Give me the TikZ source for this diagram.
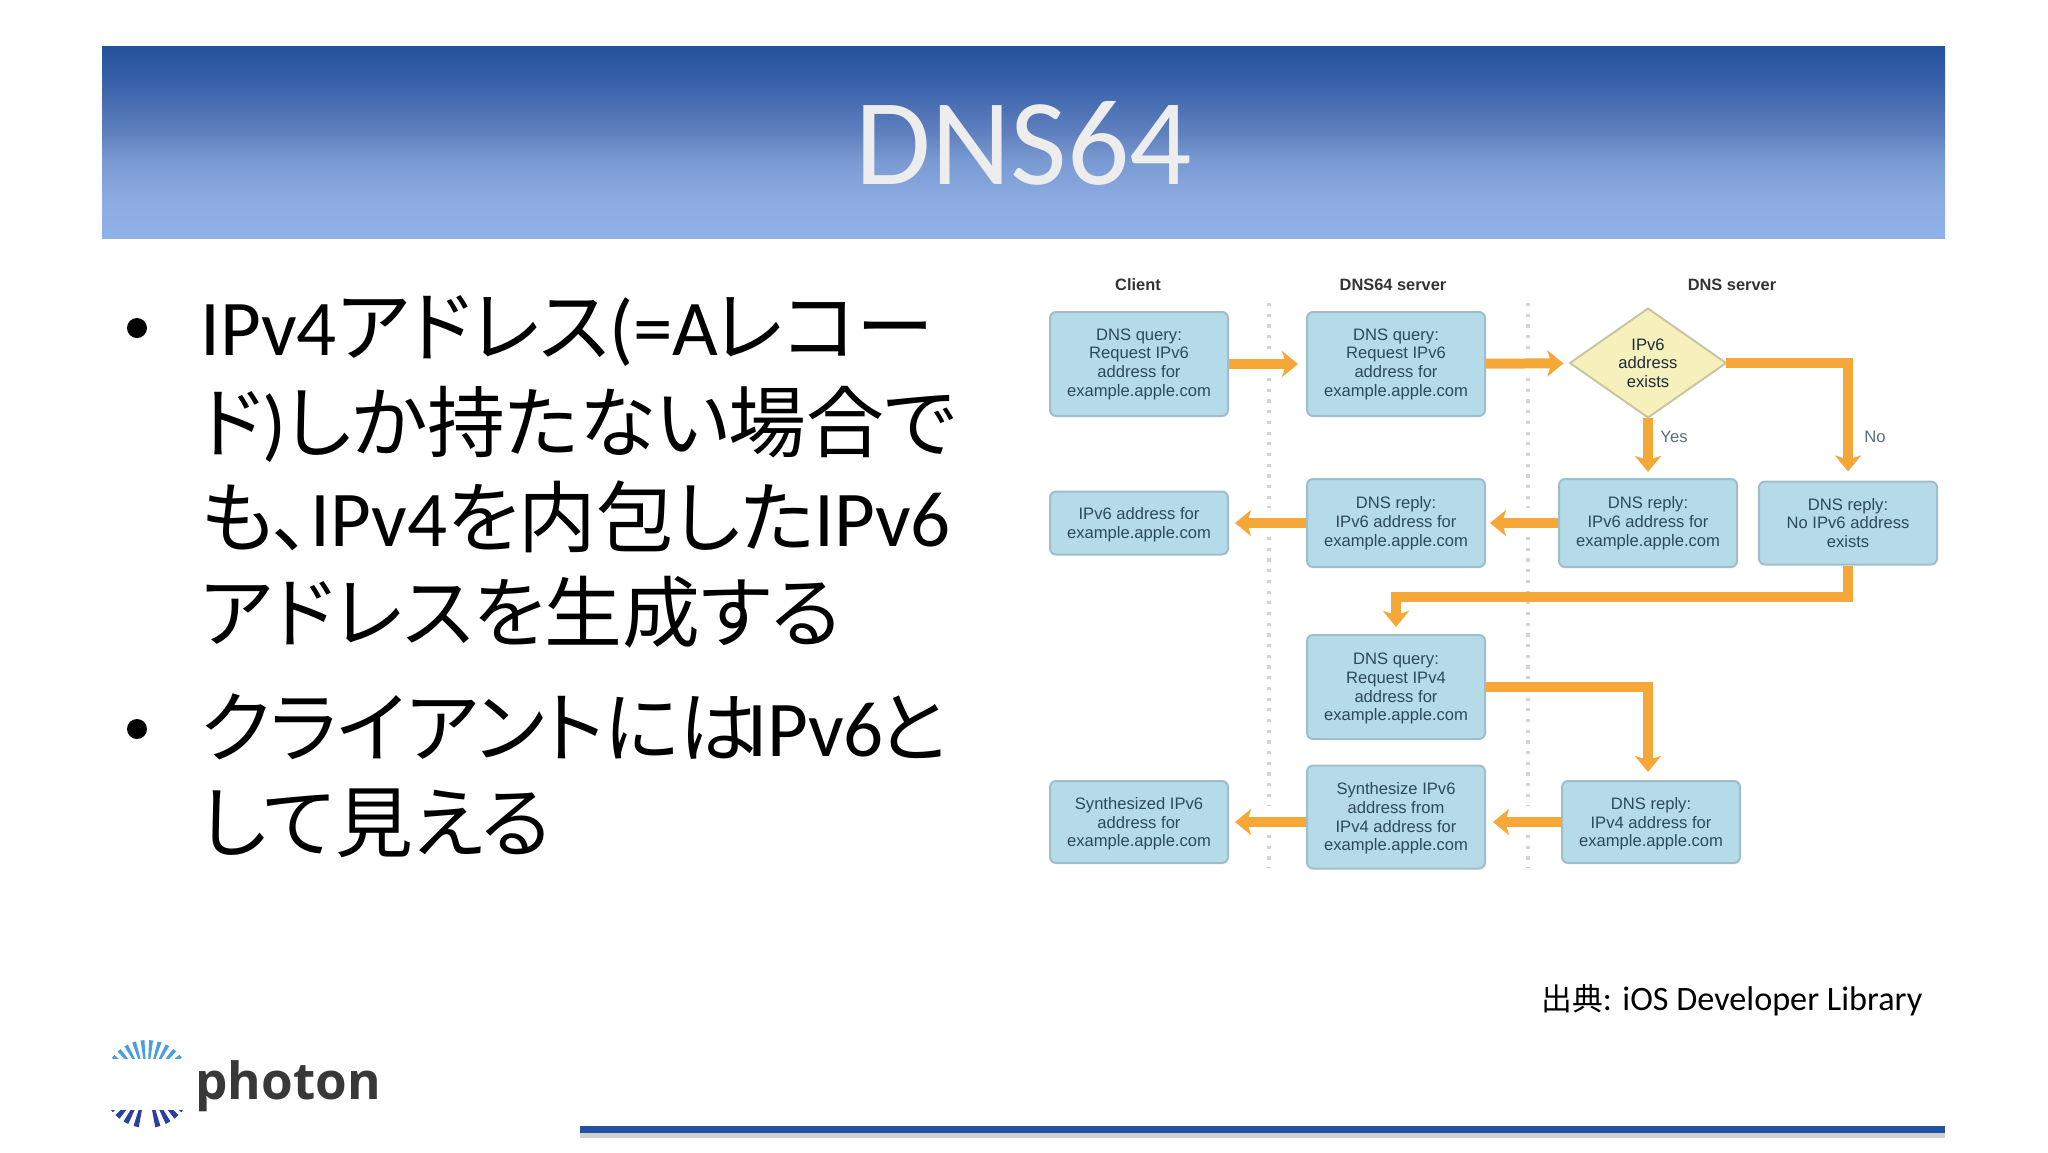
\documentclass[tikz,border=0pt]{standalone}
\usepackage{fontspec}
\setmainfont{Carlito}
\newfontfamily\cjkfont[Scale=0.985,RawFeature=+palt]{Noto Sans CJK JP}
\newfontfamily\capfont[Scale=0.9]{Noto Sans CJK JP}
\newfontfamily\diagfont{Liberation Sans}
\newfontfamily\logofont{Open Sans}
\usetikzlibrary{arrows.meta,shapes.geometric}
\newcommand{\jp}[1]{{\cjkfont #1}}
\definecolor{bannertop}{HTML}{24529B}
\definecolor{bannerupper}{HTML}{3A63AB}
\definecolor{bannermid}{HTML}{5F80BE}
\definecolor{bannerlower}{HTML}{7A9AD3}
\definecolor{bannerlow}{HTML}{8CABE2}
\definecolor{bannerend}{HTML}{8FB1E8}
\definecolor{boxfill}{HTML}{B5DBE8}
\definecolor{boxline}{HTML}{9FBDCC}
\definecolor{boxtext}{HTML}{2C4A5C}
\definecolor{flow}{HTML}{F5A738}
\definecolor{sepdot}{HTML}{D0D3D8}
\definecolor{diafill}{HTML}{F6F1BC}
\definecolor{dialine}{HTML}{C8C6A0}
\definecolor{logolight}{HTML}{4C9FD8}
\definecolor{logodark}{HTML}{2B3F9C}
\definecolor{footline}{HTML}{23509F}
\pgfdeclareverticalshading{bannerfade}{100bp}{color(0bp)=(bannerend); color(25bp)=(bannerend); color(35bp)=(bannerlow); color(45bp)=(bannerlower); color(52.5bp)=(bannermid); color(65bp)=(bannerupper); color(75bp)=(bannertop); color(100bp)=(bannertop)}
\tikzset{
	msgbox/.style={draw=boxline,line width=1pt,fill=boxfill,rounded corners=3pt,text=boxtext,
		font=\diagfont\fontsize{8.3}{9.35}\selectfont,align=center,inner sep=0pt},
	lowtext/.style={text depth=#1},
	headlabel/.style={font=\diagfont\bfseries\fontsize{8.2}{10}\selectfont,text=black!80},
	flowlabel/.style={font=\diagfont\fontsize{8.3}{10}\selectfont,text=boxtext!80},
	flowline/.style={draw=flow,line width=5pt,-{Stealth[width=13pt,length=8pt,inset=2pt]}},
	sepline/.style={draw=sepdot,line width=1.6pt,dash pattern=on 1.6pt off 3.75pt},
	bodyline/.style={anchor=base west,font=\fontsize{39.5}{46}\selectfont,inner sep=0pt},
}
\begin{document}
\begin{tikzpicture}[x=0.5pt,y=-0.5pt]
	\useasboundingbox (0,0) rectangle (2048,1152);
	% banner
	\shade[shading=bannerfade] (102,46) rectangle (1945,238);
	\node[text=black!7!white,font=\fontsize{61.5}{70}\selectfont] (title) at (1024,143) {DNS64};

	% bullets
	\foreach \y in {328,729} {
		\fill (137,\y) circle (10);
	}
	\node[bodyline] (line1) at (200,355) {IPv4\jp{アドレス}(=A\hspace{-2pt}\jp{レコー}};
	\node[bodyline] (line2) at (200,451) {\jp{ド})\jp{しか持たない場合で}};
	\node[bodyline] (line3) at (200,546) {\jp{も、}IPv4\jp{を内包した}IPv6};
	\node[bodyline] (line4) at (200,641) {\jp{アドレスを生成する}};
	\node[bodyline] (line5) at (200,756) {\jp{クライアントには}\hspace{-5pt}IPv6\hspace{-3pt}\jp{と}};
	\node[bodyline] (line6) at (200,851) {\jp{して見える}};

	% separators
	\foreach \x in {1269,1528} {
		\draw[sepline] (\x,303) -- (\x,350);
		\draw[sepline] (\x,378) -- (\x,508);
		\draw[sepline] (\x,537) -- (\x,805);
		\draw[sepline] (\x,835) -- (\x,868);
	}

	% columns
	\node[headlabel] (client) at (1138,285) {Client};
	\node[headlabel] (dnssixfour) at (1393,285) {DNS64 server};
	\node[headlabel] (dnsserver) at (1732,285) {DNS server};

	% boxes
	\node[msgbox,minimum width=89pt,minimum height=52pt] (cquery) at (1139,364) {DNS query:\\Request IPv6\\address for\\example.apple.com};
	\node[msgbox,minimum width=89pt,minimum height=52pt] (squery) at (1396,364) {DNS query:\\Request IPv6\\address for\\example.apple.com};
	\node[diamond,draw=dialine,line width=1pt,fill=diafill,outer sep=0pt,inner sep=0pt,minimum width=78pt,minimum height=54.5pt,
		text=boxtext!60!black,align=center,font=\diagfont\fontsize{8.3}{9.35}\selectfont] (exists) at (1648,363) {IPv6\\address\\exists};
	\node[msgbox,lowtext=0.36pt,minimum width=89pt,minimum height=31.5pt] (cresult) at (1139,523) {IPv6 address for\\example.apple.com};
	\node[msgbox,minimum width=89pt,minimum height=44pt] (sreply) at (1396,523) {DNS reply:\\IPv6 address for\\example.apple.com};
	\node[msgbox,minimum width=89pt,minimum height=44pt] (yreply) at (1648,523) {DNS reply:\\IPv6 address for\\example.apple.com};
	\node[msgbox,minimum width=89pt,minimum height=41.5pt] (nreply) at (1848,523) {DNS reply:\\No IPv6 address\\exists};
	\node[msgbox,lowtext=-0.04pt,minimum width=89pt,minimum height=52pt] (fourquery) at (1396,687) {DNS query:\\Request IPv4\\address for\\example.apple.com};
	\node[msgbox,lowtext=-0.84pt,minimum width=89pt,minimum height=41pt] (fourreply) at (1651,822) {DNS reply:\\IPv4 address for\\example.apple.com};
	\node[msgbox,lowtext=0.36pt,minimum width=89pt,minimum height=51.5pt] (synth) at (1396,817) {Synthesize IPv6\\address from\\IPv4 address for\\example.apple.com};
	\node[msgbox,lowtext=-0.84pt,minimum width=89pt,minimum height=41pt] (cfinal) at (1139,822) {Synthesized IPv6\\address for\\example.apple.com};

	% arrows
	\draw[flowline,shorten >=4pt] (cquery) -- (squery);
	\draw[flowline,shorten >=3.5pt] (squery) -- (exists);
	\draw[flowline,shorten >=3pt] (exists) -- (yreply);
	\draw[flowline,shorten >=4.5pt] (exists.east) -| (nreply.north);
	\draw[flowline,shorten >=2pt] (yreply) -- (sreply);
	\draw[flowline,shorten >=3pt] (sreply) -- (cresult);
	\draw[flowline,shorten >=3.5pt] (nreply.south) -- ++(0,31) -| (fourquery.north);
	\draw[flowline,shorten >=4pt] (fourquery.east) -| ([xshift=-1.5pt]fourreply.north);
	\draw[flowline,shorten >=3.5pt] (fourreply.west) -- (synth.east |- fourreply.west);
	\draw[flowline,shorten >=3pt] (synth.west |- fourreply.west) -- (cfinal.east);
	\node[flowlabel] (yes) at (1674,437) {Yes};
	\node[flowlabel] (no) at (1875,437) {No};

	% source
	\node[anchor=base west,inner sep=0pt,font=\fontsize{17.1}{20}\selectfont] (source) at (1541,1010) {{\capfont 出典}: iOS Developer Library};

	% logo
	\begin{scope}
		\clip (100,1020) rectangle (200,1058);
		\foreach \a in {218,229.5,...,322.5} {
			\fill[logolight] ([shift={(147,1083)}]\a-2.6:5) -- ([shift={(147,1083)}]\a-2.6:43) -- ([shift={(147,1083)}]\a+2.6:43) -- ([shift={(147,1083)}]\a+2.6:5) -- cycle;
		}
	\end{scope}
	\begin{scope}
		\clip (100,1110) rectangle (200,1140);
		\foreach \a in {25,37,49,62,76,104,118,131,143,155} {
			\fill[logodark] ([shift={(147,1083)}]\a-3.4:5) -- ([shift={(147,1083)}]\a-3.4:45) -- ([shift={(147,1083)}]\a+3.4:45) -- ([shift={(147,1083)}]\a+3.4:5) -- cycle;
		}
	\end{scope}
	\node[anchor=base west,inner sep=0pt,text=black!78,font=\logofont\bfseries\fontsize{25.6}{30}\selectfont] (photon) at (195,1099) {photon};

	% footer
	\fill[black!18] (580,1133) rectangle (1945,1138);
	\fill[footline] (580,1126) rectangle (1945,1133);
\end{tikzpicture}
\end{document}
